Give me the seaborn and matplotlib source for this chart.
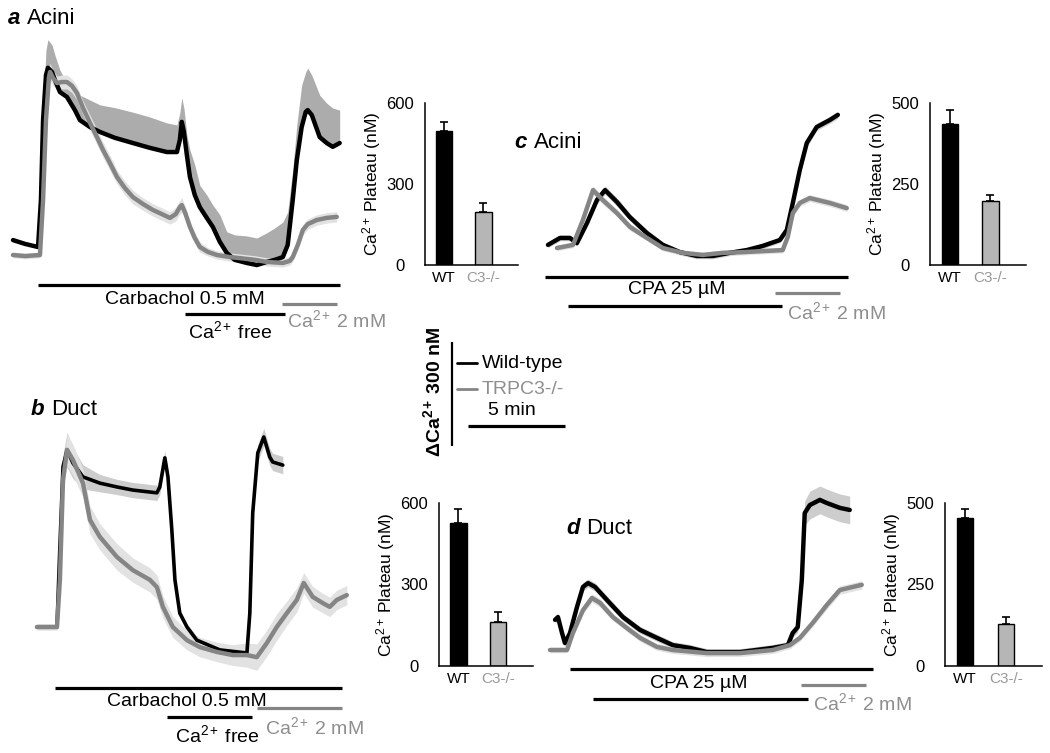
import numpy as np
import pandas as pd
import matplotlib
matplotlib.use("Agg")
import matplotlib.pyplot as plt
from matplotlib.lines import Line2D
import seaborn as sns

# ---------------------------------------------------------------- data
# Ca2+ traces: time (min), [Ca2+] (nM), SEM (nM)
# a: acini, carbachol
a_wt_t = [0, 0.62, 1.29, 1.44, 1.55, 1.70, 1.80, 2.01, 2.16, 2.42, 2.78, 3.19, 3.45, 3.97, 4.48, 5.25,
          6.18, 7.06, 7.93, 8.45, 8.60, 8.70, 8.81, 8.96, 9.12, 9.37, 9.63, 9.99, 10.30, 10.66, 11.02,
          11.43, 12.05, 12.57, 13.08, 13.49, 13.91, 14.16, 14.42, 14.63, 14.88, 15.09, 15.19, 15.40,
          15.81, 16.17, 16.48, 16.84]
a_wt_ca = [143, 132, 123, 259, 489, 619, 640, 628, 605, 570, 556, 518, 489, 469, 455, 438, 423, 409,
           397, 397, 432, 484, 455, 389, 325, 273, 238, 207, 181, 138, 106, 86, 77, 71, 80, 86, 94, 129,
           259, 374, 469, 513, 518, 504, 440, 423, 412, 423]
a_wt_sem = [6, 6, 6, 29, 29, 72, 81, 78, 72, 63, 40, 58, 72, 78, 78, 87, 89, 89, 84, 78, 78, 69, 69,
            58, 78, 87, 63, 66, 63, 78, 61, 72, 78, 78, 84, 92, 101, 95, 87, 101, 121, 115, 121, 115,
            121, 115, 112, 95]
a_ko_t = [0, 0.62, 1.39, 1.55, 1.70, 1.85, 1.91, 2.06, 2.27, 2.52, 2.78, 3.04, 3.30, 3.61, 3.97, 4.33,
          4.64, 5.00, 5.36, 5.77, 6.18, 6.70, 7.21, 7.67, 8.09, 8.39, 8.60, 8.70, 8.86, 9.12, 9.37, 9.63,
          10.04, 10.51, 11.18, 11.69, 12.46, 13.08, 13.91, 14.27, 14.42, 14.68, 14.94, 15.19, 15.66,
          16.17, 16.69]
a_ko_ca = [100, 97, 100, 259, 489, 611, 628, 611, 596, 599, 599, 588, 567, 524, 481, 440, 403, 365,
           325, 293, 267, 247, 230, 218, 207, 218, 238, 244, 224, 181, 149, 123, 109, 100, 94, 91, 86,
           80, 77, 83, 94, 129, 172, 189, 201, 207, 210]
a_ko_sem = [8, 8, 8, 15, 20, 25, 25, 22, 20, 20, 20, 20, 20, 20, 22, 22, 22, 22, 20, 20, 20, 18, 18,
            18, 18, 20, 20, 22, 18, 18, 15, 15, 12, 12, 12, 12, 12, 12, 12, 12, 12, 14, 15, 15, 15, 15, 15]

# b: duct, carbachol
b_wt_t = [0, 1.03, 1.18, 1.34, 1.55, 1.85, 2.37, 3.24, 4.12, 4.94, 6.18, 6.33, 6.59, 6.75, 6.95, 7.11,
          7.36, 7.73, 8.24, 9.42, 10.82, 10.97, 11.12, 11.38, 11.69, 12.00, 12.15, 12.67]
b_wt_ca = [100, 100, 331, 562, 611, 573, 533, 515, 504, 495, 487, 504, 588, 533, 380, 236, 140, 100,
           62, 34, 25, 140, 429, 602, 648, 590, 576, 567]
b_wt_sem = [8, 8, 20, 35, 50, 45, 35, 25, 22, 22, 22, 22, 20, 20, 15, 12, 10, 10, 10, 10, 10, 15, 20,
            25, 25, 25, 25, 25]
b_ko_t = [0, 1.03, 1.18, 1.34, 1.55, 1.85, 2.37, 2.73, 3.24, 4.12, 4.94, 5.82, 6.18, 6.49, 7.00, 7.73,
          8.39, 9.27, 10.09, 10.82, 11.33, 11.85, 12.36, 12.88, 13.39, 13.75, 14.21, 14.73, 15.09,
          15.45, 15.97]
b_ko_ca = [100, 100, 236, 524, 611, 582, 515, 409, 360, 302, 264, 236, 215, 158, 100, 62, 42, 28, 19,
           19, 13, 54, 100, 140, 178, 227, 187, 169, 158, 178, 192]
b_ko_sem = [8, 8, 20, 35, 45, 45, 40, 40, 38, 38, 35, 35, 35, 32, 30, 28, 28, 28, 30, 35, 38, 38, 38,
            35, 35, 30, 30, 28, 28, 28, 28]

# c: acini, CPA
c_wt_t = [0, 0.62, 1.13, 1.49, 2.01, 2.52, 2.94, 3.55, 4.22, 5.10, 5.92, 6.80, 7.67, 8.50, 9.37,
          10.25, 11.07, 11.95, 12.31, 12.62, 12.98, 13.34, 13.85, 14.52, 14.94]
c_wt_ca = [109, 129, 129, 114, 172, 238, 267, 233, 189, 143, 109, 88, 77, 77, 86, 94, 106, 123, 152,
           230, 325, 403, 449, 469, 484]
c_wt_sem = [8, 8, 8, 8, 10, 12, 12, 12, 10, 10, 8, 8, 8, 8, 8, 8, 8, 8, 10, 12, 12, 12, 10, 10, 10]
c_ko_t = [0.46, 1.29, 1.80, 2.32, 2.83, 3.55, 4.22, 5.10, 5.92, 6.95, 7.98, 9.01, 10.04, 11.07, 12.10,
          12.36, 12.62, 12.98, 13.49, 14.52, 15.40]
c_ko_ca = [100, 109, 181, 267, 238, 201, 161, 129, 100, 86, 80, 86, 88, 91, 94, 132, 201, 230, 244,
           230, 215]
c_ko_sem = [8, 8, 10, 12, 12, 10, 10, 8, 8, 8, 8, 8, 8, 8, 8, 10, 10, 10, 10, 10, 10]

# d: duct, CPA
d_wt_t = [0.26, 0.41, 0.62, 0.77, 1.03, 1.39, 1.70, 1.96, 2.32, 2.94, 3.76, 4.64, 5.51, 6.33, 7.21,
          8.09, 9.79, 11.48, 12.26, 12.51, 12.77, 12.98, 13.13, 13.39, 13.91, 14.27, 14.94, 15.45]
d_wt_ca = [187, 195, 149, 120, 149, 224, 282, 293, 282, 244, 195, 158, 135, 114, 106, 94, 94, 106,
           114, 149, 166, 302, 495, 518, 533, 524, 510, 504]
d_wt_sem = [10, 10, 10, 10, 10, 12, 12, 12, 12, 12, 10, 10, 10, 10, 10, 10, 10, 10, 10, 12, 15, 25,
            35, 40, 40, 40, 40, 40]
d_ko_t = [0, 0.88, 1.18, 1.70, 2.16, 2.58, 3.24, 3.97, 4.64, 5.51, 6.33, 8.09, 9.79, 11.48, 12.36,
          12.88, 13.54, 14.27, 14.94, 16.07]
d_ko_ca = [100, 100, 149, 215, 250, 236, 195, 163, 135, 109, 100, 91, 91, 100, 114, 135, 178, 230,
           273, 288]
d_ko_sem = [8, 8, 10, 10, 12, 12, 10, 10, 10, 10, 10, 10, 10, 10, 10, 10, 10, 12, 12, 12]

# protocol periods (min)
a_carbachol = [1.29, 16.84]; a_ca_free = [8.86, 14.01]; a_ca_2mm = [13.85, 16.69]
b_carbachol = [0.93, 15.71]; b_ca_free = [6.70, 11.07]; b_ca_2mm = [11.33, 15.71]
c_cpa = [-0.15, 15.45]; c_ca_free = [1.03, 12.05]; c_ca_2mm = [11.69, 15.04]
d_cpa = [1.03, 16.63]; d_ca_free = [2.21, 13.29]; d_ca_2mm = [12.93, 16.27]

# bar charts: Ca2+ plateau (nM)
bar_groups = ["WT", "C3-/-"]
bar_a_mean = [496, 196]; bar_a_sem = [34, 34]
bar_c_mean = [435, 198]; bar_c_sem = [43, 18]
bar_b_mean = [526, 162]; bar_b_sem = [52, 37]
bar_d_mean = [454, 129]; bar_d_sem = [28, 21]

# scale bars
scale_ca = 300   # nM
scale_t = 5      # min

# ---------------------------------------------------------------- style
sns.set_style("white")
plt.rcParams["font.family"] = ["Liberation Sans", "DejaVu Sans"]
plt.rcParams["mathtext.fontset"] = "custom"
plt.rcParams["mathtext.rm"] = "Liberation Sans"
plt.rcParams["mathtext.it"] = "Liberation Sans:italic"
plt.rcParams["mathtext.bf"] = "Liberation Sans:bold"
for k in ("text.color", "axes.labelcolor", "xtick.color", "ytick.color", "axes.edgecolor"):
    plt.rcParams[k] = "black"

W, H = 1050, 753
fig = plt.figure(figsize=(W / 100, H / 100), dpi=100)

WT_C = "black"
KO_C = "#858585"
KO_TXT = "#8e8e8e"
SX = 5 / 97.0       # min per pixel
SY = 300 / 104.0    # nM per pixel
BASE = 100.0
CA = "Ca$^{2+}$\u2009"


def px_axes(left, top, right, bottom):
    return fig.add_axes([left / W, 1 - bottom / H, (right - left) / W, (bottom - top) / H])


def ftext(px, py, s, **kw):
    kw.setdefault("va", "center")
    return fig.text(px / W, 1 - py / H, s, **kw)


def trace_panel(rect, origin, wt, ko, wt_band, one_sided, protocol, lw_wt=3.2):
    left, top, right, bottom = rect
    ox, oy = origin
    ax = px_axes(left, top, right, bottom)
    ax.set_xlim((left - ox) * SX, (right - ox) * SX)
    ax.set_ylim(BASE + (oy - bottom) * SY, BASE + (oy - top) * SY)
    ax.set_axis_off()
    (wt_t, wt_ca, wt_sem), (ko_t, ko_ca, ko_sem) = wt, ko
    wt_t, wt_ca, wt_sem = map(np.asarray, (wt_t, wt_ca, wt_sem))
    ko_t, ko_ca, ko_sem = map(np.asarray, (ko_t, ko_ca, ko_sem))
    lo = wt_ca if one_sided else wt_ca - wt_sem
    ax.fill_between(wt_t, lo, wt_ca + wt_sem, color=wt_band, lw=0, zorder=1)
    ax.fill_between(ko_t, ko_ca - ko_sem, ko_ca + ko_sem, color="#e2e2e2", lw=0, zorder=1.5)
    sns.lineplot(x=wt_t, y=wt_ca, ax=ax, color=WT_C, lw=lw_wt, sort=False, estimator=None, zorder=3)
    sns.lineplot(x=ko_t, y=ko_ca, ax=ax, color=KO_C, lw=3.2, sort=False, estimator=None, zorder=4)
    for (t0, t1), py, col in protocol:
        y = BASE + (oy - py) * SY
        ax.plot([t0, t1], [y, y], color=col, lw=2.3, solid_capstyle="butt", clip_on=False)
    return ax


def bar_panel(rect, means, sems, ymax, ticks):
    ax = px_axes(*rect)
    df = pd.DataFrame({"group": bar_groups, "value": means})
    sns.barplot(data=df, x="group", y="value", hue="group", palette=["black", "#b6b6b6"],
                edgecolor="black", linewidth=1.0, width=0.41, legend=False, ax=ax)
    ax.errorbar(x=[0, 1], y=means, yerr=[[0, 0], sems], fmt="none", ecolor="black",
                elinewidth=1.2, capsize=3, capthick=1.2, zorder=0.5)
    ax.set_xlim(-0.49, 1.88)
    ax.set_ylim(0, ymax)
    ax.set_yticks(ticks)
    ax.set_xlabel("")
    ax.set_ylabel(CA + "Plateau (nM)", fontsize=12.5, labelpad=2)
    sns.despine(ax=ax)
    for s in ("left", "bottom"):
        ax.spines[s].set_linewidth(1.1)
    ax.tick_params(axis="y", direction="in", length=4, width=1.1, labelsize=12, pad=18)
    for lab in ax.get_yticklabels():
        lab.set_horizontalalignment("center")
    ax.tick_params(axis="x", length=0, labelsize=11, pad=4)
    ax.get_xticklabels()[1].set_color("#999999")
    return ax


# ---------------------------------------------------------------- panels
trace_panel((0, 20, 360, 345), (13, 255),
            (a_wt_t, a_wt_ca, a_wt_sem), (a_ko_t, a_ko_ca, a_ko_sem), "#acacac", True,
            [(a_carbachol, 285, "black"), (a_ca_free, 314, "black"), (a_ca_2mm, 304, KO_C)])
trace_panel((0, 390, 370, 740), (37, 627),
            (b_wt_t, b_wt_ca, b_wt_sem), (b_ko_t, b_ko_ca, b_ko_sem), "#cdcdcd", False,
            [(b_carbachol, 688, "black"), (b_ca_free, 717, "black"), (b_ca_2mm, 708, KO_C)], lw_wt=2.6)
trace_panel((530, 90, 870, 320), (548, 248),
            (c_wt_t, c_wt_ca, c_wt_sem), (c_ko_t, c_ko_ca, c_ko_sem), "#d0d0d0", False,
            [(c_cpa, 277, "black"), (c_ca_free, 306, "black"), (c_ca_2mm, 293, KO_C)])
trace_panel((540, 470, 880, 720), (550, 650),
            (d_wt_t, d_wt_ca, d_wt_sem), (d_ko_t, d_ko_ca, d_ko_sem), "#cdcdcd", False,
            [(d_cpa, 669, "black"), (d_ca_free, 699, "black"), (d_ca_2mm, 685, KO_C)])

bar_panel((425, 103, 518, 265), bar_a_mean, bar_a_sem, 600, [0, 300, 600])
bar_panel((930, 103, 1026, 265), bar_c_mean, bar_c_sem, 500, [0, 250, 500])
bar_panel((439, 503, 533, 666), bar_b_mean, bar_b_sem, 600, [0, 300, 600])
bar_panel((945, 503, 1042, 666), bar_d_mean, bar_d_sem, 500, [0, 250, 500])

# scale bar axes (same px <-> unit mapping as the traces)
sax = px_axes(420, 330, 580, 460)
sax.set_xlim(0, 160 * SX)
sax.set_ylim(0, 130 * SY)
sax.set_axis_off()
vx = (452 - 420) * SX
vy0 = (460 - 446) * SY
sax.plot([vx, vx], [vy0, vy0 + scale_ca], color="black", lw=1.6, solid_capstyle="butt")
hx0 = (468 - 420) * SX
hy = (460 - 426) * SY
sax.plot([hx0, hx0 + scale_t], [hy, hy], color="black", lw=2.3, solid_capstyle="butt")

# legend keys
fig.add_artist(Line2D([457 / W, 477 / W], [1 - 363 / H, 1 - 363 / H], color="black", lw=2.0))
fig.add_artist(Line2D([457 / W, 477 / W], [1 - 389 / H, 1 - 389 / H], color=KO_C, lw=2.0))

# ---------------------------------------------------------------- text
TS = 14
ftext(8, 18, "a", fontsize=16, fontweight="bold", style="italic")
ftext(27, 18, "Acini", fontsize=16)
ftext(31, 410, "b", fontsize=16, fontweight="bold", style="italic")
ftext(51, 410, "Duct", fontsize=16)
ftext(514, 143, "c", fontsize=16, fontweight="bold", style="italic")
ftext(534, 143, "Acini", fontsize=16)
ftext(566, 529, "d", fontsize=16, fontweight="bold", style="italic")
ftext(586, 529, "Duct", fontsize=16)

ftext(185, 300, "Carbachol 0.5 mM", fontsize=TS, ha="center")
ftext(230, 331, CA + "free", fontsize=TS, ha="center")
ftext(287, 320, CA + "2 mM", fontsize=TS, color=KO_TXT)

ftext(187, 702, "Carbachol 0.5 mM", fontsize=TS, ha="center")
ftext(217, 735, CA + "free", fontsize=TS, ha="center")
ftext(265, 727, CA + "2 mM", fontsize=TS, color=KO_TXT)

ftext(677, 290, "CPA 25 µM", fontsize=TS, ha="center")
ftext(787, 312, CA + "2 mM", fontsize=TS, color=KO_TXT)
ftext(699, 683, "CPA 25 µM", fontsize=TS, ha="center")
ftext(813, 703, CA + "2 mM", fontsize=TS, color=KO_TXT)

ftext(482, 363, "Wild-type", fontsize=TS)
ftext(482, 389, "TRPC3-/-", fontsize=TS, color=KO_TXT)
ftext(512, 411, "5 min", fontsize=TS, ha="center")
ftext(433, 392, "ΔCa$^{\\mathbf{2+}}$\u2009300 nM", fontsize=TS, fontweight="bold",
      rotation=90, ha="center")

fig.savefig("out.png", dpi=100)
